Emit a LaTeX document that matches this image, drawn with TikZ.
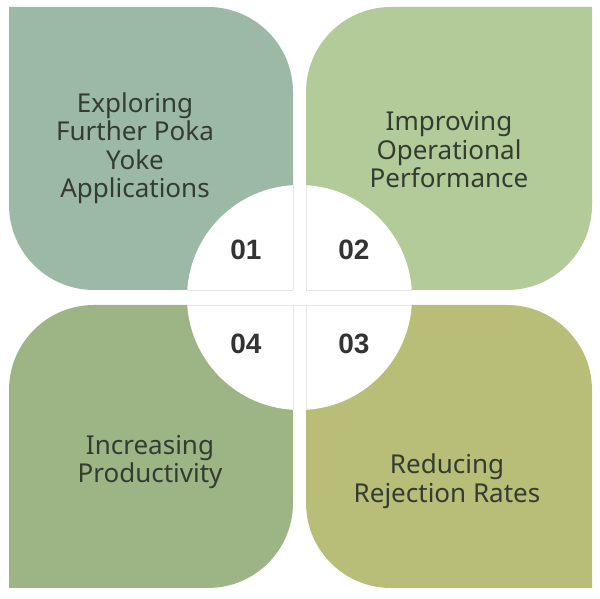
\documentclass[tikz,border=0pt]{standalone}
\usepackage{fontspec}
\setmainfont{Noto Sans}
\newfontfamily\numfont{Liberation Sans}
\usepackage{xcolor}
\usepackage{tikz}
\usetikzlibrary{positioning}

\definecolor{tileone}{HTML}{9CB9A5}
\definecolor{tiletwo}{HTML}{B2CB98}
\definecolor{tilethree}{HTML}{B8BD78}
\definecolor{tilefour}{HTML}{9DB584}
\definecolor{labelgray}{HTML}{343C32}
\definecolor{numgray}{HTML}{333333}

\begin{document}
\begin{tikzpicture}[
    x=1pt, y=1pt,
    itemtext/.style={align=center, text=labelgray, font=\fontsize{26}{28.5}\selectfont},
    numtext/.style={text=numgray, font=\numfont\bfseries\fontsize{28}{32}\selectfont},
]
\useasboundingbox (0,0) rectangle (600,599);
\coordinate (c) at (299.5,301.5);
% four tiles
\fill[tileone] (9,592) -- (208,592) arc[start angle=90, end angle=0, radius=85]
    -- (293,309) -- (94,309) arc[start angle=270, end angle=180, radius=85] -- cycle;
\fill[tiletwo] (592,592) -- (592,394) arc[start angle=0, end angle=-90, radius=85]
    -- (306,309) -- (306,507) arc[start angle=180, end angle=90, radius=85] -- cycle;
\fill[tilefour] (293,294) -- (293,96) arc[start angle=0, end angle=-90, radius=85]
    -- (9,11) -- (9,209) arc[start angle=180, end angle=90, radius=85] -- cycle;
\fill[tilethree] (306,294) -- (507,294) arc[start angle=90, end angle=0, radius=85]
    -- (592,11) -- (391,11) arc[start angle=270, end angle=180, radius=85] -- cycle;
% centre disc cut in quarters
\fill[white] (c) circle[radius=112.5];
\begin{scope}
\clip (c) circle[radius=112.5];
\draw[black!10, fill=white] (293,0) rectangle (306,599);
\draw[black!10, fill=white] (0,294) rectangle (600,309);
\fill[white] (293.4,294.4) rectangle (305.6,308.6);
\end{scope}
% labels
\node[itemtext] (explore) at (135,451) {Exploring\\Further Poka\\Yoke\\Applications};
\node[itemtext] (improve) at (449,449) {Improving\\Operational\\Performance};
\node[itemtext] (increase) at (150,137) {Increasing\\Productivity};
\node[itemtext] (reduce) at (447,118) {Reducing\\Rejection Rates};
% numbers
\node[numtext] (n1) at (246,349) {01};
\node[numtext] (n2) at (354,349) {02};
\node[numtext] (n3) at (354,255) {03};
\node[numtext] (n4) at (246,255) {04};
\end{tikzpicture}
\end{document}
